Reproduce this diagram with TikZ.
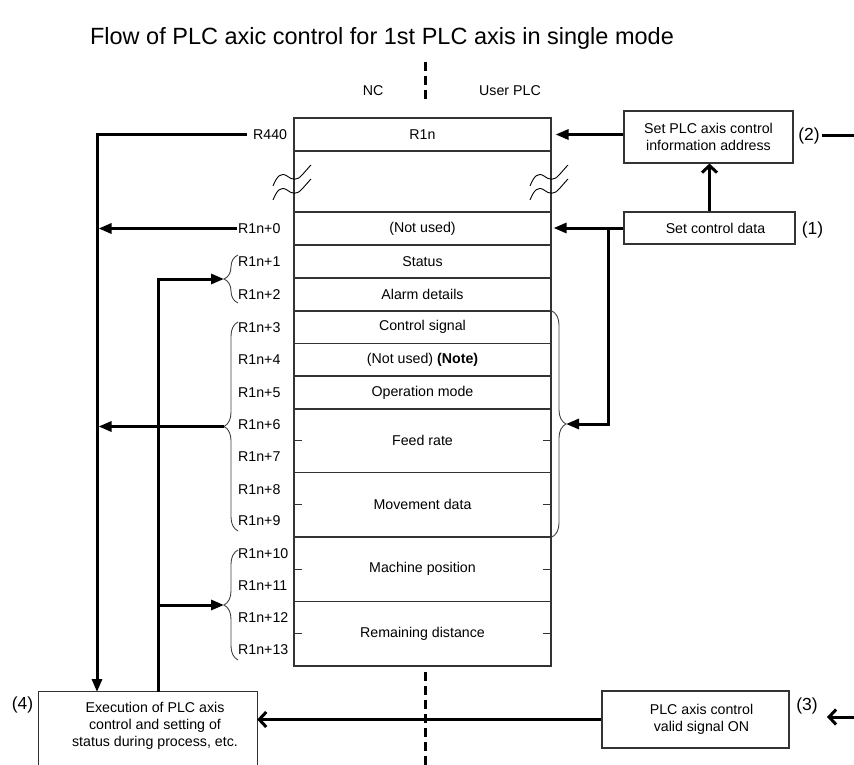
\documentclass[tikz,border=0pt]{standalone}
\usepackage{fontspec}
\setmainfont{Liberation Sans}
\usetikzlibrary{arrows.meta,decorations.pathreplacing,calc}
\begin{document}
\begin{tikzpicture}[x=1pt,y=-1pt,
 every node/.style={font=\fontsize{14.2}{17}\selectfont},
 row/.style={draw=black!80, line width=1.1pt, minimum width=257pt, inner sep=0pt, anchor=center},
 box/.style={draw=black!80, line width=1.1pt, align=center, inner sep=0pt},
 lbl/.style={anchor=west, inner sep=0pt},
 num/.style={inner sep=0pt, font=\fontsize{17.5}{20}\selectfont},
 arr/.style={line width=3pt, -{Triangle[length=13pt,width=10pt]}},
 oarr/.style={line width=3pt, -{Straight Barb[length=7pt,width=15pt]}},
 ln/.style={line width=3pt},
 brc/.style={decorate, decoration={brace, amplitude=14pt}, draw=black!75, line width=0.9pt},
 tickmark/.style={line width=1.1pt, draw=black!80},
 wavy/.style={line width=0.9pt},
 dsh/.style={line width=3pt, dash pattern=on 9pt off 5pt},
 wavemark/.pic={
   \draw[wavy] (-19,9) .. controls (-15,-1) and (-11,-5) .. (-5,-1) .. controls (0,3) and (5,4) .. (10,-2) .. controls (13,-5) and (16,-9) .. (19,-12);
   \draw[wavy] (-19,23) .. controls (-15,13) and (-11,9) .. (-5,13) .. controls (0,17) and (5,18) .. (10,12) .. controls (13,9) and (16,5) .. (19,2);
 }
]
\useasboundingbox (0,0) rectangle (854,765);
\clip (0,0) rectangle (854,765);

% title and side labels
\node[font=\fontsize{23.5}{28}\selectfont] (title) at (382,38) {Flow of PLC axic control for 1st PLC axis in single mode};
\node (nc) at (373,91) {NC};
\node (upl) at (510,91) {User PLC};
\draw[dsh] (425,62) -- (425,102);
\draw[dsh] (425,672) -- (425,770);

% table rows
\node[row, minimum height=33pt] (rA) at (422.5,134.5) {R1n};
\node[row, minimum height=61pt] (rgap) at (422.5,181.5) {};
\node[row, minimum height=33pt] (r0) at (422.5,228.5) {(Not used)};
\node[row, minimum height=33pt] (r1) at (422.5,261.5) {Status};
\node[row, minimum height=33pt] (r2) at (422.5,294.5) {Alarm details};
\node[row, minimum height=32.5pt] (r3) at (422.5,327.25) {Control signal};
\node[row, minimum height=32.5pt] (r4) at (422.5,359.75) {(Not used) \textbf{(Note)}};
\node[row, minimum height=33pt] (r5) at (422.5,392.5) {Operation mode};
\node[row, minimum height=63.5pt] (r6) at (422.5,440.75) {Feed rate};
\node[row, minimum height=64.5pt] (r8) at (422.5,504.75) {Movement data};
\node[row, minimum height=64.5pt] (r10) at (422.5,569.25) {Machine position};
\node[row, minimum height=64.5pt] (r12) at (422.5,633.75) {Remaining distance};
\foreach \r in {r6,r8,r10,r12}{
  \draw[tickmark] (\r.west) -- ++(9,0);
  \draw[tickmark] (\r.east) -- ++(-9,0);
}
\pic at (292,177) {wavemark};
\pic at (549,177) {wavemark};

% register labels
\node[lbl] (r440) at (253,134.5) {R440};
\node[lbl] (l0) at (238,228.5) {R1n+0};
\node[lbl] (l1) at (238,261.5) {R1n+1};
\node[lbl] (l2) at (238,294.5) {R1n+2};
\node[lbl] (l3) at (238,327.25) {R1n+3};
\node[lbl] (l4) at (238,359.75) {R1n+4};
\node[lbl] (l5) at (238,392.5) {R1n+5};
\node[lbl] (l6) at (238,425) {R1n+6};
\node[lbl] (l7) at (238,456.6) {R1n+7};
\node[lbl] (l8) at (238,489.5) {R1n+8};
\node[lbl] (l9) at (238,521) {R1n+9};
\node[lbl] (l10) at (238,553.5) {R1n+10};
\node[lbl] (l11) at (238,585.5) {R1n+11};
\node[lbl] (l12) at (238,617.6) {R1n+12};
\node[lbl] (l13) at (238,650) {R1n+13};

% braces
\draw[brc] (238,303) -- (238,255);
\draw[brc] (238,531) -- (238,322);
\draw[brc] (238,660) -- (238,550);
\draw[brc] (552,311) -- (552,537);
\coordinate (b1) at (224,279);
\coordinate (b2) at (224,426.5);
\coordinate (b3) at (224,605);
\coordinate (rb) at (566,424);

% boxes
\node[box, minimum width=169pt, minimum height=52pt] (addr) at (708.5,137) {Set PLC axis control\\information address};
\node[box, minimum width=171pt, minimum height=32pt] (ctrl) at (709.5,228) {\hspace*{12pt}Set control data};
\node[box, minimum width=187pt, minimum height=57pt] (valid) at (695.5,719.5) {\hspace*{12pt}PLC axis control\\\hspace*{12pt}valid signal ON};
\node[minimum width=218pt, minimum height=68pt, inner sep=0pt] (exec) at (148,726) {};
\draw[draw=black!80, line width=1.1pt] ([yshift=-20pt]exec.south west) -- (exec.north west) -- (exec.north east) -- ([yshift=-20pt]exec.south east);
\node[align=center, inner sep=0pt] (exectxt) at (155,726) {Execution of PLC axis\\control and setting of\\status during process, etc.};

% step numbers
\node[num] (n1) at (812.5,230) {(1)};
\node[num] (n2) at (809,136) {(2)};
\node[num] (n3) at (807,706) {(3)};
\node[num] (n4) at (22.5,705) {(4)};
\coordinate (eR2) at (856,136);
\coordinate (eR3) at (856,717);

% connectors right side
\draw[arr, shorten >=4pt] (addr.west |- rA.east) -- (rA.east);
\draw[arr, shorten >=2pt] (ctrl.west) -- (ctrl.west -| r0.east);
\coordinate (jn) at (608,228);
\draw[arr] (jn) |- (rb);
\draw[oarr] (ctrl.north) -- (ctrl.north |- addr.south);
\draw[ln] ([xshift=2pt]n2.east) -- (eR2);
\draw[oarr] (eR3) -- (827,717);
\draw[oarr] (valid.west) -- (exec.east |- valid.west);

% connectors left side
\coordinate (colA) at (97,692);
\coordinate (colB) at (158,692);
\draw[arr] ([xshift=-6pt]r440.west) -| (colA);
\draw[arr] ([xshift=-1pt]l0.west) -- ($(l0.west -| colA)+(1.5,0)$);
\draw[arr] (b2) -- ($(b2 -| colA)+(1.5,0)$);
\draw[arr] (colB) |- (b1);
\draw[arr] (colB |- b3) -- (b3);
\end{tikzpicture}
\end{document}
